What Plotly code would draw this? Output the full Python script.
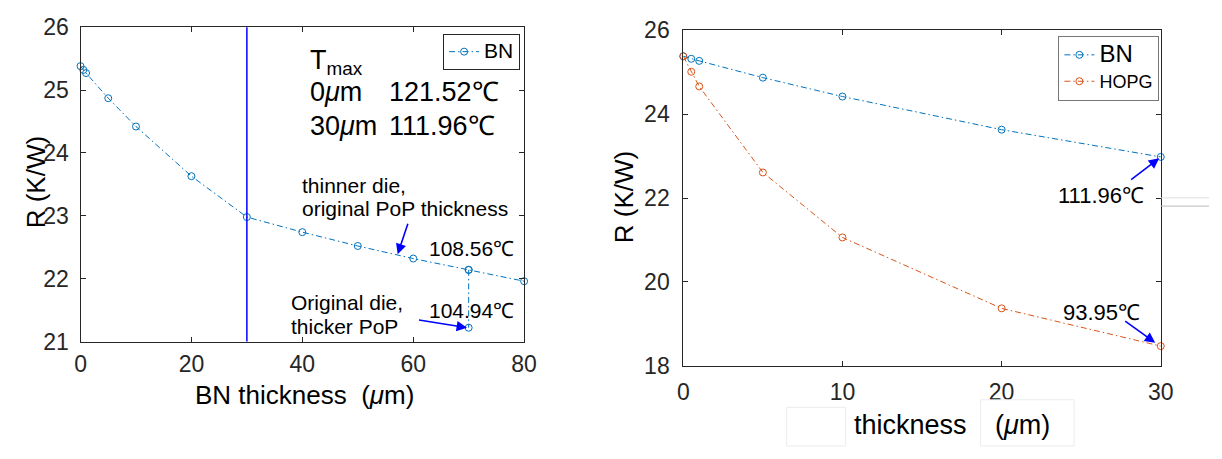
import plotly.graph_objects as go

# ---------------- data ----------------
# left panel: BN layer thickness sweep (um) vs thermal resistance (K/W)
bn_thick_left = [0, 0.5, 1, 5, 10, 20, 30, 40, 50, 60, 70, 80]
bn_r_left = [25.38, 25.32, 25.27, 24.87, 24.42, 23.63, 22.98, 22.74, 22.52, 22.32, 22.14, 21.96]
# original die with thicker PoP at the same BN thickness
thick_pop_x = [70, 70]
thick_pop_r = [22.14, 21.22]
marker_line_x = 30

# right panel: BN vs HOPG
thick_right = [0, 0.5, 1, 5, 10, 20, 30]
bn_r_right = [25.38, 25.32, 25.27, 24.87, 24.42, 23.63, 22.98]
hopg_r_right = [25.38, 25.01, 24.66, 22.61, 21.06, 19.37, 18.47]

left_xticks = [0, 20, 40, 60, 80]
left_yticks = [21, 22, 23, 24, 25, 26]
right_xticks = [0, 10, 20, 30]
right_yticks = [18, 20, 22, 24, 26]

# ---------------- styling ----------------
W, H = 1222, 459
FONT = "Liberation Sans, Arial, Helvetica, sans-serif"
BLUE = "#0072BD"
ORANGE = "#D95319"
AXC = "#262626"
PURE_BLUE = "#0000FF"


def px(x):
    return x / W


def py(y):
    return 1 - y / H


fig = go.Figure()

line_style = dict(width=1, dash="6px,3px,1.5px,3px")
mk = dict(symbol="circle-open", size=7, line=dict(width=1))

fig.add_trace(go.Scatter(
    x=bn_thick_left, y=bn_r_left, mode="lines+markers",
    name="<span style='font-size:21px'>BN</span>",
    line=dict(color=BLUE, **line_style), marker=dict(color=BLUE, **mk),
    xaxis="x", yaxis="y", legend="legend", cliponaxis=False))
fig.add_trace(go.Scatter(
    x=thick_pop_x, y=thick_pop_r, mode="lines+markers", name="BN thick PoP",
    line=dict(color=BLUE, **line_style), marker=dict(color=BLUE, **mk),
    xaxis="x", yaxis="y", showlegend=False, cliponaxis=False))

fig.add_trace(go.Scatter(
    x=thick_right, y=bn_r_right, mode="lines+markers",
    name="<span style='font-size:24px'>BN</span>",
    line=dict(color=BLUE, **line_style), marker=dict(color=BLUE, **mk),
    xaxis="x2", yaxis="y2", legend="legend2", cliponaxis=False))
fig.add_trace(go.Scatter(
    x=thick_right, y=hopg_r_right, mode="lines+markers", name="HOPG",
    line=dict(color=ORANGE, **line_style), marker=dict(color=ORANGE, **mk),
    xaxis="x2", yaxis="y2", legend="legend2", cliponaxis=False))

axis_common = dict(
    showline=True, linecolor=AXC, linewidth=1, mirror="allticks",
    ticks="inside", ticklen=5, tickcolor=AXC, showgrid=False, zeroline=False,
    tickfont=dict(family=FONT, size=23, color=AXC),
)

fig.update_layout(
    width=W, height=H, margin=dict(l=0, r=0, t=0, b=0),
    paper_bgcolor="white", plot_bgcolor="white",
    font=dict(family=FONT, color="black"),
    xaxis=dict(domain=[px(75.7), px(526.3)], range=[0, 80], tickvals=left_xticks,
               anchor="y", ticklabelstandoff=2, **axis_common),
    yaxis=dict(domain=[py(348.3), py(15)], range=[21, 26], tickvals=left_yticks,
               anchor="x", ticklabelstandoff=6, **axis_common),
    xaxis2=dict(domain=[px(688), px(1173)], range=[0, 30], tickvals=right_xticks,
                anchor="y2", ticklabelstandoff=6, **axis_common),
    yaxis2=dict(domain=[py(374), py(18.3)], range=[18, 26], tickvals=right_yticks,
                anchor="x2", ticklabelstandoff=8, **axis_common),
    legend=dict(x=px(444), y=py(22), xanchor="left", yanchor="top",
                bgcolor="white", bordercolor=AXC, borderwidth=1,
                font=dict(family=FONT, size=16, color="black"), itemwidth=30),
    legend2=dict(x=px(1069), y=py(24), xanchor="left", yanchor="top",
                 bgcolor="white", bordercolor="#777777", borderwidth=1,
                 tracegroupgap=0,
                 font=dict(family=FONT, size=18, color="black"), itemwidth=30),
)

# vertical reference line on the left panel
fig.add_shape(type="line", xref="x", yref="y domain", x0=marker_line_x, x1=marker_line_x,
              y0=0, y1=1, line=dict(color=PURE_BLUE, width=1.5))

# faint artefact lines / boxes on the right panel
fig.add_shape(type="line", xref="paper", yref="paper", x0=px(1173), x1=1, y0=py(196), y1=py(196),
              line=dict(color="#dddddd", width=1))
fig.add_shape(type="line", xref="paper", yref="paper", x0=px(1173), x1=1, y0=py(204.7), y1=py(204.7),
              line=dict(color="#bbbbbb", width=1))
fig.add_shape(type="rect", xref="paper", yref="paper", x0=px(793), x1=px(853), y0=0, y1=py(418),
              line=dict(color="#ececec", width=1))
fig.add_shape(type="rect", xref="paper", yref="paper", x0=px(990), x1=px(1085), y0=0, y1=py(410),
              line=dict(color="#ececec", width=1))


def txt(x, y, s, size, anchor="left", angle=0, color="black"):
    fig.add_annotation(xref="paper", yref="paper", x=px(x), y=py(y), text=s,
                       showarrow=False, xanchor=anchor, yanchor="middle", textangle=angle,
                       font=dict(family=FONT, size=size, color=color))


def arrow(xref, yref, x, y, ax, ay):
    fig.add_annotation(xref=xref, yref=yref, x=x, y=y, ax=ax, ay=ay, text=" ",
                       showarrow=True, arrowhead=2, arrowsize=1.3, arrowwidth=1.6,
                       arrowcolor=PURE_BLUE, font=dict(size=2))


# axis titles
txt(190, 405, "BN thickness\u00a0\u00a0(<i>μ</i>m)", 26)
txt(30, 180, "R (K/W)", 26, anchor="center", angle=-90)
txt(859, 437, "thickness", 27)
txt(1003, 437, "(<i>μ</i>m)", 27)
txt(628, 195, "R (K/W)", 26, anchor="center", angle=-90)

# left-panel text
txt(307, 52, "T<sub>max</sub>", 27)
txt(307, 84, "0<i>μ</i>m", 27)
txt(387, 84, "121.52℃", 27)
txt(307, 120, "30<i>μ</i>m", 27)
txt(387, 120, "111.96℃", 27)
txt(299, 183, "thinner die,", 21)
txt(299, 207, "original PoP thickness", 21)
txt(518, 250, "108.56℃", 21, anchor="right")
txt(518, 315, "104.94℃", 21, anchor="right")
txt(287, 307, "Original die,", 21)
txt(287, 332, "thicker PoP", 21)
arrow("x", "y", 57.2, 22.39, 11, -33)
arrow("x", "y", 69.7, 21.22, -50, -8)

# right-panel text
txt(1067, 193, "111.96℃", 22)
txt(1072, 317, "93.95℃", 22)
arrow("x2", "y2", 29.9, 22.95, -30, 23)
arrow("x2", "y2", 29.65, 18.55, -32, -23)

fig.write_html("out.html")
